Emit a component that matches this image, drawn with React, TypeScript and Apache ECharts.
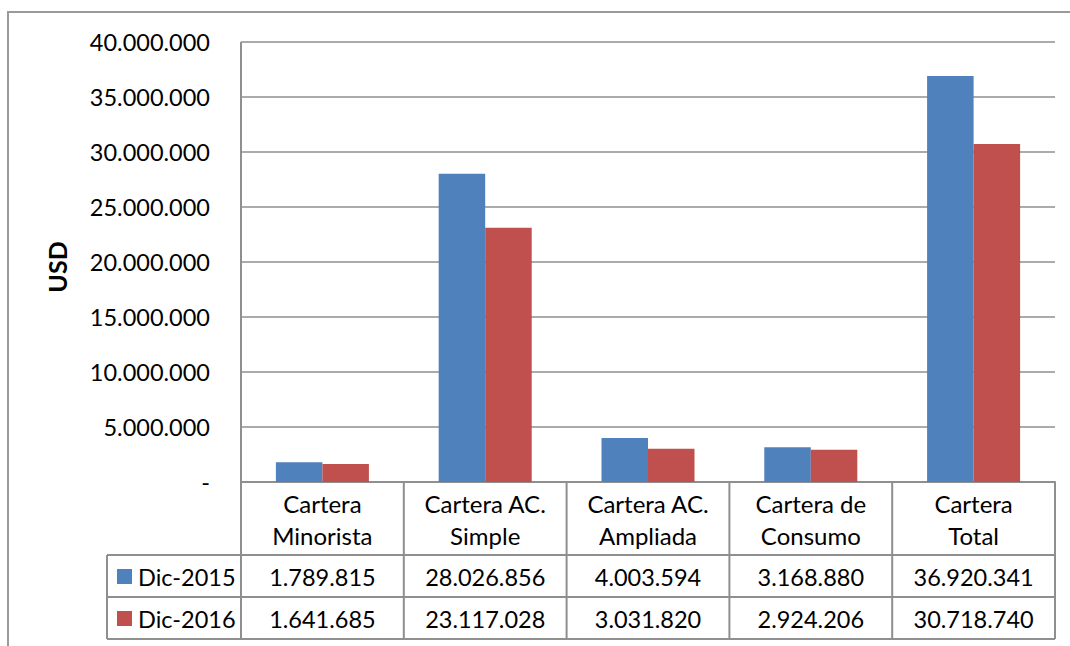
import React, { useEffect, useRef } from "react";
import * as echarts from "echarts";

// Portfolio categories (two-line labels in the data table header)
const categories = [
  "Cartera\nMinorista",
  "Cartera AC.\nSimple",
  "Cartera AC.\nAmpliada",
  "Cartera de\nConsumo",
  "Cartera\nTotal",
];

const seriesNames = ["Dic-2015", "Dic-2016"];
const dic2015 = [1789815, 28026856, 4003594, 3168880, 36920341];
const dic2016 = [1641685, 23117028, 3031820, 2924206, 30718740];

const yMin = 0;
const yMax = 40000000;
const yInterval = 5000000;

const COLORS = ["#4F81BD", "#C0504D"];
const FONT = "Lato, 'Open Sans', sans-serif";
const LINE = "#8f8f8f";
const NUM_SIZE = 23.5;
const HEAD_SIZE = 24;

// layout of plot + data table
const W = 1070;
const H = 646;
const GRID_LEFT = 241;
const GRID_TOP = 42;
const GRID_W = 814;
const GRID_H = 440;
const TABLE_LEFT = 107;
const HEADER_BOTTOM = 555;
const ROW_H = 42;

const fmt = (v: number) =>
  v === 0 ? "-" : Math.round(v).toString().replace(/\B(?=(\d{3})+(?!\d))/g, ".");

function buildTable(): any[] {
  const els: any[] = [];
  const colW = GRID_W / categories.length;
  const axisY = GRID_TOP + GRID_H;
  const right = GRID_LEFT + GRID_W;
  const bottom = HEADER_BOTTOM + ROW_H * seriesNames.length;
  const line = (x1: number, y1: number, x2: number, y2: number) => ({
    type: "line",
    shape: { x1, y1, x2, y2 },
    style: { stroke: LINE, lineWidth: 2 },
    silent: true,
  });
  // vertical column separators
  for (let i = 0; i <= categories.length; i++) {
    const x = GRID_LEFT + colW * i;
    els.push(line(x, i === 0 ? GRID_TOP : axisY, x, bottom));
  }
  els.push(line(TABLE_LEFT, HEADER_BOTTOM, TABLE_LEFT, bottom));
  // horizontal row separators
  for (let r = 0; r <= seriesNames.length; r++) {
    const y = HEADER_BOTTOM + ROW_H * r;
    els.push(line(TABLE_LEFT, y, right, y));
  }
  const rows = [dic2015, dic2016];
  rows.forEach((vals, r) => {
    const cy = HEADER_BOTTOM + ROW_H * r + ROW_H / 2 + 1;
    els.push({
      type: "rect",
      shape: { x: 117, y: cy - 8, width: 15, height: 15 },
      style: { fill: COLORS[r] },
    });
    els.push({
      type: "text",
      x: 138,
      y: cy,
      style: {
        text: seriesNames[r],
        font: `${NUM_SIZE}px ${FONT}`,
        fill: "#000",
        align: "left",
        verticalAlign: "middle",
      },
    });
    vals.forEach((v, i) => {
      els.push({
        type: "text",
        x: GRID_LEFT + colW * (i + 0.5),
        y: cy,
        style: {
          text: fmt(v),
          font: `${NUM_SIZE}px ${FONT}`,
          fill: "#000",
          align: "center",
          verticalAlign: "middle",
        },
      });
    });
  });
  // outer chart frame
  els.push({
    type: "rect",
    shape: { x: 8, y: 12, width: W + 50, height: H + 50 },
    style: { fill: "none", stroke: "#9a9a9a", lineWidth: 2 },
    silent: true,
  });
  // y axis title
  els.push({
    type: "text",
    x: 57,
    y: 267,
    rotation: Math.PI / 2,
    style: {
      text: "USD",
      font: `bold 25px ${FONT}`,
      fill: "#000",
      align: "center",
      verticalAlign: "middle",
    },
  });
  return els;
}

export default function App() {
  const ref = useRef<HTMLDivElement>(null);
  useEffect(() => {
    if (!ref.current) return;
    const chart = echarts.init(ref.current, undefined, { renderer: "svg" });
    chart.setOption({
      animation: false,
      backgroundColor: "#fff",
      textStyle: { fontFamily: FONT },
      grid: { left: GRID_LEFT, top: GRID_TOP, width: GRID_W, height: GRID_H },
      xAxis: {
        type: "category",
        data: categories,
        axisLine: { show: true, lineStyle: { color: LINE, width: 2 } },
        axisTick: { show: false },
        axisLabel: {
          color: "#000",
          fontSize: HEAD_SIZE,
          fontFamily: FONT,
          lineHeight: 32,
          margin: 5,
          interval: 0,
        },
      },
      yAxis: {
        type: "value",
        min: yMin,
        max: yMax,
        interval: yInterval,
        axisLine: { show: false },
        axisTick: { show: false },
        splitLine: { lineStyle: { color: LINE, width: 1.5 } },
        axisLabel: {
          color: "#000",
          fontSize: NUM_SIZE,
          fontFamily: FONT,
          margin: 31,
          formatter: (v: number) => fmt(v),
        },
      },
      series: [
        {
          name: seriesNames[0],
          type: "bar",
          data: dic2015,
          barWidth: "28.57%",
          barGap: "0%",
          itemStyle: { color: COLORS[0] },
        },
        {
          name: seriesNames[1],
          type: "bar",
          data: dic2016,
          barWidth: "28.57%",
          barGap: "0%",
          itemStyle: { color: COLORS[1] },
        },
      ],
      graphic: buildTable(),
    });
    return () => chart.dispose();
  }, []);
  return (
    <div
      ref={ref}
      style={{ position: "absolute", left: 0, top: 0, width: W, height: H }}
    />
  );
}
